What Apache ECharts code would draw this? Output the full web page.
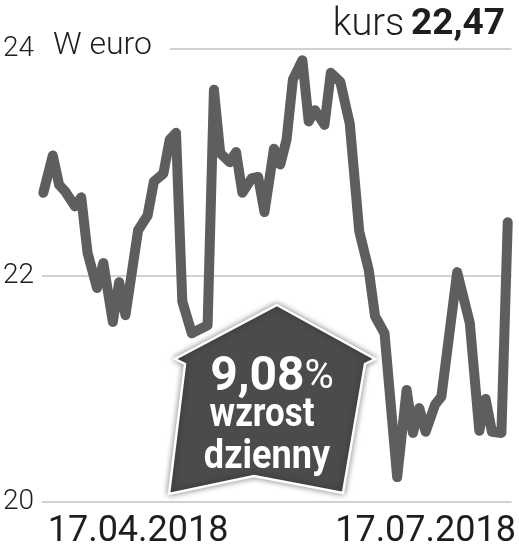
<!DOCTYPE html>
<html>
<head>
<meta charset="utf-8">
<script src="https://cdn.jsdelivr.net/npm/echarts@6/dist/echarts.min.js"></script>
<style>
  html, body { margin: 0; padding: 0; background: #fff; }
  #chart_line { width: 519px; height: 554px; }
</style>
</head>
<body>
<div id="chart_line"></div>
<script>
// days counted from 17.04.2018
const days = [-30, -27, -25, -23, -20, -18, -16, -13, -11, -8, -6, -4, 0, 3, 5, 8, 10, 12, 14, 17,
  22, 24, 26, 29, 31, 33, 36, 38, 40, 43, 45, 47, 49, 52, 54, 56, 59, 61, 64, 67,
  70, 73, 75, 78, 82, 85, 87, 89, 91, 94, 96, 101, 105, 108, 110, 112, 115, 117]
const prices = [22.73, 23.06, 22.80, 22.74, 22.61, 22.69, 22.20, 21.89, 22.11, 21.59, 21.94, 21.65, 22.40, 22.53, 22.83, 22.90, 23.20, 23.26, 21.77, 21.49,
  21.56, 23.64, 23.08, 23.00, 23.09, 22.73, 22.86, 22.87, 22.56, 23.12, 22.98, 23.20, 23.73, 23.90, 23.36, 23.46, 23.33, 23.79, 23.71, 23.34,
  22.39, 22.05, 21.64, 21.49, 20.22, 20.99, 20.61, 20.83, 20.62, 20.86, 20.93, 22.03, 21.58, 20.63, 20.91, 20.62, 20.61, 22.47]

const dateTicks = [0, 91]
const dateLabels = ['17.04.2018', '17.07.2018']
const priceTicks = [20, 22, 24]

const unitLabel = 'W euro'
const lastPrice = '22,47'
const dailyChange = '9,08'
const changeWords = ['wzrost', 'dzienny']

const chart = echarts.init(document.getElementById('chart_line'))

chart.setOption({
  animation: false,
  grid: { left: 42, right: 7, top: 49, bottom: 52 },
  xAxis: {
    type: 'value',
    min: -30.4,
    max: 118.2,
    axisLine: { show: false },
    axisTick: { show: false },
    splitLine: { show: false },
    axisLabel: {
      customValues: dateTicks,
      formatter: v => dateLabels[dateTicks.indexOf(v)],
      fontFamily: 'Roboto',
      fontSize: 36,
      color: '#1e1e1e',
      margin: 12
    }
  },
  yAxis: {
    type: 'value',
    min: priceTicks[0],
    max: priceTicks[priceTicks.length - 1],
    interval: 2,
    axisLine: { show: false },
    axisTick: { show: false },
    splitLine: {
      lineStyle: { color: '#c2c2c2', width: 1.5 }
    },
    axisLabel: {
      fontFamily: 'Roboto',
      fontWeight: 300,
      fontSize: 28,
      color: '#1e1e1e',
      margin: 8,
      padding: [0, 0, 4, 0]
    }
  },
  series: [
    {
      type: 'line',
      data: days.map((d, i) => [d, prices[i]]),
      showSymbol: false,
      lineStyle: {
        color: '#5e5e5e',
        width: 10,
        join: 'round',
        cap: 'round'
      }
    }
  ],
  graphic: [
    // hides the top grid line behind the unit label
    {
      type: 'rect',
      z: 1,
      shape: { x: 38, y: 43, width: 132, height: 12 },
      style: { fill: '#fff' }
    },
    {
      type: 'text',
      z: 5,
      x: 53,
      y: 46,
      style: {
        text: unitLabel,
        fontFamily: 'Roboto',
        fontWeight: 300,
        fontSize: 32,
        fill: '#1e1e1e',
        verticalAlign: 'middle'
      }
    },
    {
      type: 'text',
      z: 5,
      x: 505,
      y: 25,
      style: {
        text: '{a|kurs}  {b|' + lastPrice + '}',
        align: 'right',
        verticalAlign: 'middle',
        rich: {
          a: { fontFamily: 'Roboto', fontWeight: 300, fontSize: 38, fill: '#1e1e1e' },
          b: { fontFamily: 'Roboto', fontWeight: 'bold', fontSize: 37, fill: '#1e1e1e' }
        }
      }
    },
    {
      type: 'polygon',
      z: 20,
      shape: {
        points: [[277, 305], [375, 359], [365, 364], [343, 493], [254, 476], [169, 494], [185, 364], [175, 359]]
      },
      style: {
        fill: '#4b4b4b',
        stroke: '#fff',
        lineWidth: 2.5,
        shadowBlur: 6,
        shadowColor: 'rgba(0, 0, 0, 0.45)'
      }
    },
    {
      type: 'text',
      z: 21,
      x: 272,
      y: 378,
      style: {
        text: '{n|' + dailyChange + '}{p|%}',
        align: 'center',
        verticalAlign: 'middle',
        rich: {
          n: { fontFamily: 'Roboto', fontWeight: 'bold', fontSize: 48, fill: '#fff' },
          p: { fontFamily: 'Roboto', fontWeight: 'normal', fontSize: 40, fill: '#fff' }
        }
      }
    },
    {
      type: 'text',
      z: 21,
      x: 262,
      y: 416,
      scaleX: 0.85,
      style: {
        text: changeWords[0],
        fontFamily: 'Roboto',
        fontWeight: 'bold',
        fontSize: 41,
        fill: '#fff',
        align: 'center',
        verticalAlign: 'middle'
      }
    },
    {
      type: 'text',
      z: 21,
      x: 267,
      y: 458,
      scaleX: 0.88,
      style: {
        text: changeWords[1],
        fontFamily: 'Roboto',
        fontWeight: 'bold',
        fontSize: 41,
        fill: '#fff',
        align: 'center',
        verticalAlign: 'middle'
      }
    }
  ]
})
</script>
</body>
</html>
